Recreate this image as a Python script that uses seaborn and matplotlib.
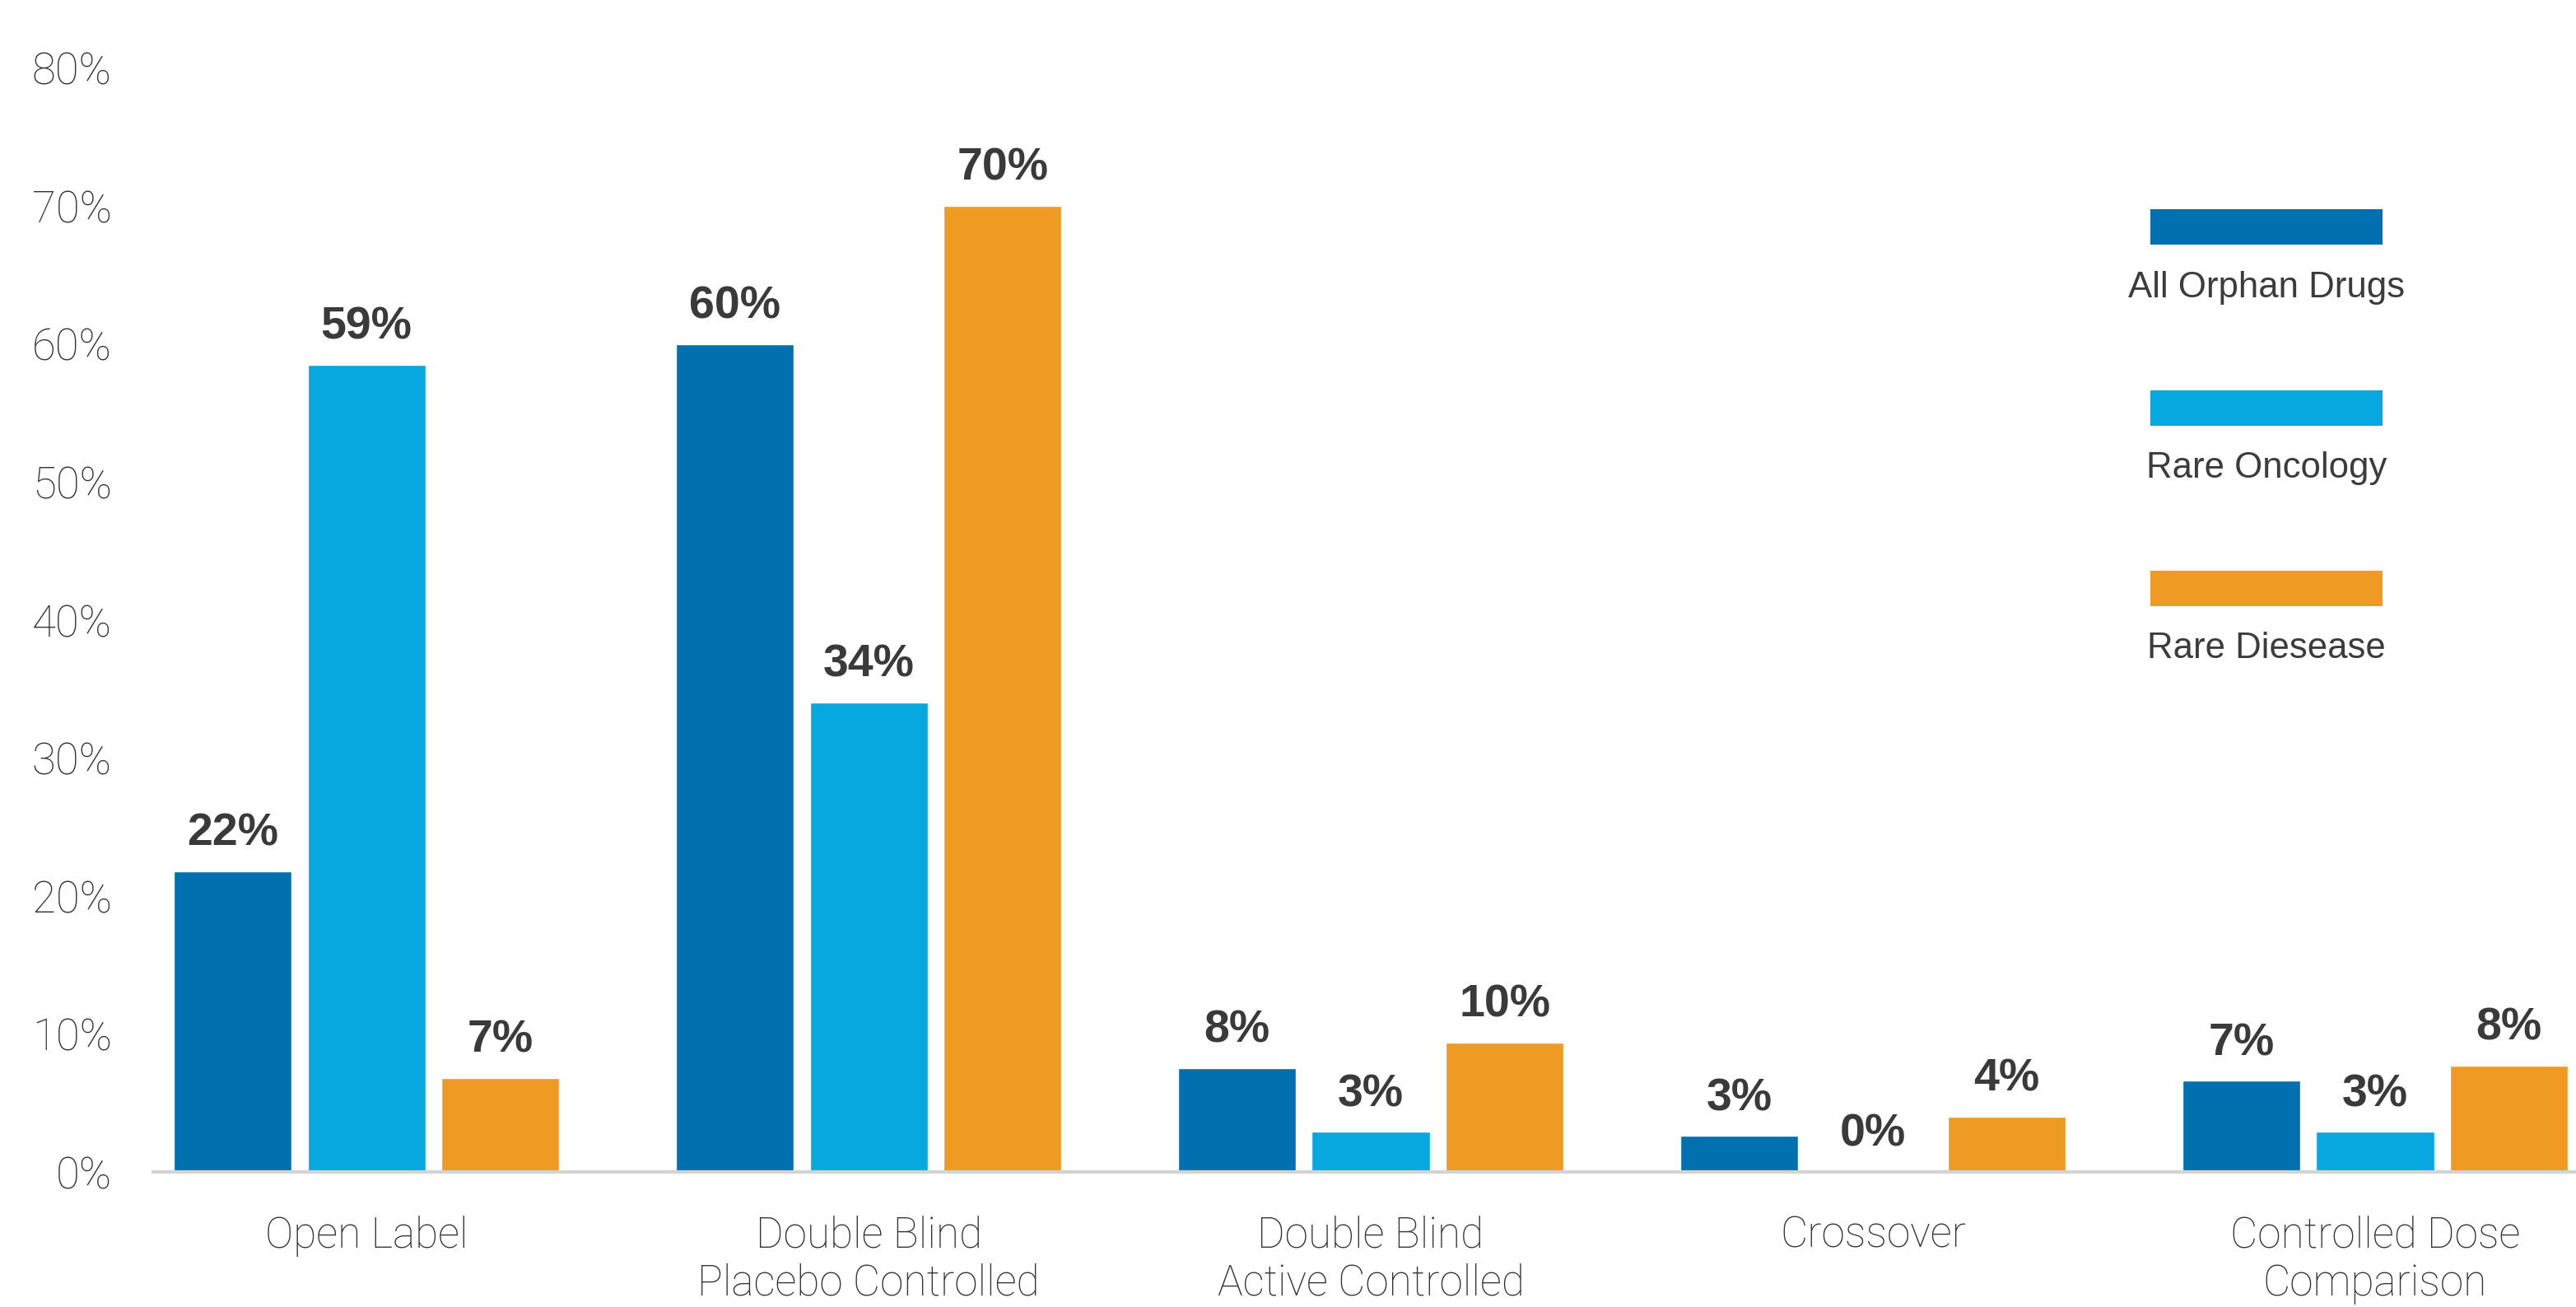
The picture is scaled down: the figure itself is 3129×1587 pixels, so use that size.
import matplotlib
matplotlib.use("Agg")
import matplotlib.pyplot as plt
from matplotlib.patches import Rectangle
import seaborn as sns
import pandas as pd

# ---- data ----
categories = ["Open Label", "Double Blind\nPlacebo Controlled", "Double Blind\nActive Controlled",
              "Crossover", "Controlled Dose\nComparison"]
series = ["All Orphan Drugs", "Rare Oncology", "Rare Diesease"]
all_orphan = [21.8, 60.0, 7.5, 2.6, 6.6]
rare_oncology = [58.5, 34.0, 2.9, 0.0, 2.9]
rare_disease = [6.8, 70.0, 9.4, 4.0, 7.7]
labels_all = ["22%", "60%", "8%", "3%", "7%"]
labels_onc = ["59%", "34%", "3%", "0%", "3%"]
labels_dis = ["7%", "70%", "10%", "4%", "8%"]
yticks = [0, 10, 20, 30, 40, 50, 60, 70, 80]
ytick_labels = ["0%", "10%", "20%", "30%", "40%", "50%", "60%", "70%", "80%"]
colors = ["#0071AE", "#07A7E0", "#EF9A22"]

df = pd.DataFrame({
    "category": categories * 3,
    "series": [series[0]] * 5 + [series[1]] * 5 + [series[2]] * 5,
    "value": all_orphan + rare_oncology + rare_disease,
})

sns.set_theme(style="white")
plt.rcParams["font.family"] = ["Roboto", "DejaVu Sans"]

fig = plt.figure(figsize=(31.29, 15.87), dpi=100)
ax = fig.add_axes([0.0594, 0.1033, 1 - 0.0594, 0.948 - 0.1033])

sns.barplot(data=df, x="category", y="value", hue="series", order=categories,
            hue_order=series, palette=colors, width=0.8, gap=0.12,
            saturation=1, legend=False, ax=ax)

text_color = "#3a3a3a"
for cont, labs in zip(ax.containers, [labels_all, labels_onc, labels_dis]):
    ax.bar_label(cont, labels=labs, padding=14, fontsize=40, fontweight="bold",
                 color=text_color, family=["Liberation Sans", "DejaVu Sans"])

ax.set_ylim(0, 80)
ax.set_xlim(-0.425, 4.40)
ax.set_yticks(yticks)
ax.set_yticklabels(ytick_labels, fontsize=38, color="#333333", fontweight="light")
ax.set_xticks(range(len(categories)))
ax.set_xticklabels(categories, fontsize=37, color="#333333", fontweight="light", linespacing=1.2)
ax.tick_params(axis="y", length=0, pad=36)
ax.tick_params(axis="x", length=0, pad=38)
ax.set_xlabel("")
ax.set_ylabel("")
for s in ["top", "right", "left"]:
    ax.spines[s].set_visible(False)
ax.spines["bottom"].set_color("#D3D3D3")
ax.spines["bottom"].set_linewidth(3)
ax.grid(False)

# ---- legend (patches with labels underneath) ----
leg_x = 0.8348
leg_w = 0.0901
leg_h = 0.0271
patch_bottoms = [0.8129, 0.6742, 0.5362]
label_ys = [0.7795, 0.6415, 0.5035]
for name, col, pb, ly in zip(series, colors, patch_bottoms, label_ys):
    fig.add_artist(Rectangle((leg_x, pb), leg_w, leg_h, transform=fig.transFigure,
                             facecolor=col, edgecolor="none"))
    fig.text(leg_x + leg_w / 2, ly, name, ha="center", va="center", fontsize=31.5,
             color="#3c3c3c", family=["Liberation Sans", "DejaVu Sans"])

fig.savefig("out.png", dpi=100, facecolor="white")
